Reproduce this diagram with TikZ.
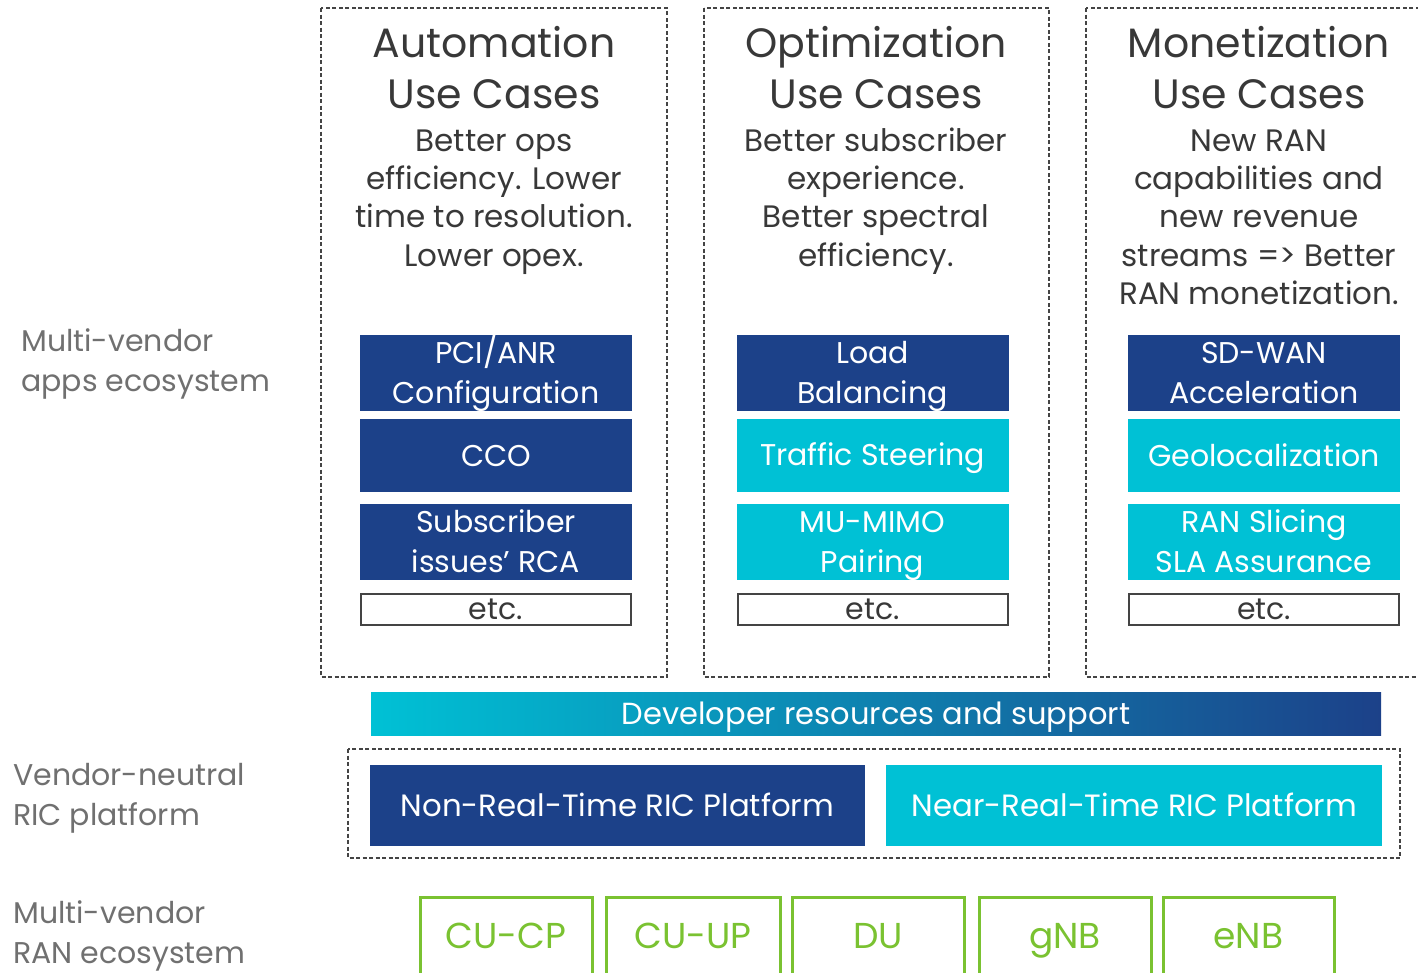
\documentclass[tikz,border=0pt]{standalone}
\usepackage{fontspec}
\setmainfont{Poppins}
\usetikzlibrary{positioning}
\definecolor{ricblue}{HTML}{1C4189}
\definecolor{riccyan}{HTML}{00C1D5}
\definecolor{rangreen}{HTML}{7AC231}
\definecolor{titlegray}{HTML}{383838}
\definecolor{labelgray}{HTML}{707070}
\definecolor{framegray}{HTML}{444444}
% strut centred on the capitals
\newcommand{\capstrut}{\rule[-0.25em]{0pt}{1.2em}}
\newcommand{\brk}{\capstrut\\\capstrut}

\begin{document}
\begin{tikzpicture}[x=1pt,y=-1pt,
    every node/.style={execute at begin node=\capstrut, execute at end node=\capstrut},
    usecase/.style={draw=framegray, line width=1.3pt, dash pattern=on 4pt off 2.5pt},
    uctitle/.style={text=titlegray, align=center, font=\fontsize{41}{51.5}\selectfont},
    ucdesc/.style={text=titlegray, align=center, font=\fontsize{31}{38.3}\selectfont},
    appbox/.style={minimum width=272pt, inner sep=0pt, text=white, align=center,
        font=\fontsize{30}{40}\selectfont},
    appdark/.style={appbox, fill=ricblue},
    applight/.style={appbox, fill=riccyan},
    etcbox/.style={draw=framegray, line width=2pt, minimum width=270pt, minimum height=31pt,
        inner xsep=0pt, inner ysep=-3pt, text=titlegray, font=\fontsize{30}{36}\selectfont},
    ricbox/.style={minimum width=495pt, minimum height=81pt, inner sep=0pt, text=white,
        font=\fontsize{30.8}{36}\selectfont},
    ranbox/.style={draw=rangreen, line width=3pt, minimum height=78pt, inner sep=0pt,
        text=rangreen, font=\fontsize{36}{40}\selectfont},
    sidelabel/.style={text=labelgray, align=left, anchor=west, inner xsep=0pt,
        font=\fontsize{30}{40}\selectfont}
]
    \useasboundingbox (0,0) rectangle (1418,972);

    % use case frames
    \draw[usecase] (321,8) rectangle (667,677);
    \draw[usecase] (704,8) rectangle (1049,677);
    \draw[usecase] (1086,8) rectangle (1432,677);

    % titles and descriptions
    \node (autoT) [uctitle] at (494,68.5) {Automation\brk Use Cases};
    \node (optT)  [uctitle] at (876,68.5) {Optimization\brk Use Cases};
    \node (monT)  [uctitle] at (1259,68.5) {Monetization\brk Use Cases};

    \node (autoD) [ucdesc] at (494,198) {Better ops\brk efficiency. Lower\brk time to resolution.\brk Lower opex.};
    \node (optD)  [ucdesc] at (876,198) {Better subscriber\brk experience.\brk Better spectral\brk efficiency.};
    \node (monD)  [ucdesc] at (1259,217) {New RAN\brk capabilities and\brk new revenue\brk streams => Better\brk RAN monetization.};

    % app boxes
    \node (pci)   [appdark, minimum height=74pt] at (496,373) {PCI/ANR\brk Configuration};
    \node (cco)   [appdark, minimum height=73pt] at (496,455.5) {CCO};
    \node (rca)   [appdark, minimum height=74pt] at (496,542) {Subscriber\brk issues’ RCA};
    \node (autoE) [etcbox] at (496,609) {etc.};

    \node (load)  [appdark, minimum height=74pt] at (872.5,373) {Load\brk Balancing};
    \node (steer) [applight, minimum height=73pt] at (872.5,455.5) {Traffic Steering};
    \node (mimo)  [applight, minimum height=74pt] at (872.5,542) {MU-MIMO\brk Pairing};
    \node (optE)  [etcbox] at (872.5,609) {etc.};

    \node (sdwan) [appdark, minimum height=74pt] at (1264,373) {SD-WAN\brk Acceleration};
    \node (geo)   [applight, minimum height=73pt] at (1264,455.5) {Geolocalization};
    \node (slice) [applight, minimum height=74pt] at (1264,542) {RAN Slicing\brk SLA Assurance};
    \node (monE)  [etcbox] at (1264,609) {etc.};

    % developer bar
    \node (dev) [minimum width=1010pt, minimum height=43pt, inner sep=0pt,
        left color=riccyan, right color=ricblue, text=white,
        font=\fontsize{30.5}{34}\selectfont] at (876,713.5) {Developer resources and support};

    % RIC platform
    \draw[usecase] (348,749) rectangle (1400,858);
    \node (nonrt)  [ricbox, fill=ricblue] at (617.5,805.5) {Non-Real-Time RIC Platform};
    \node (nearrt) [ricbox, fill=riccyan, minimum width=496pt, right=21pt of nonrt] {Near-Real-Time RIC Platform};

    % RAN ecosystem
    \node (cucp) [ranbox, minimum width=172pt] at (506,936) {CU-CP};
    \node (cuup) [ranbox, minimum width=174pt] at (693,936) {CU-UP};
    \node (du)   [ranbox, minimum width=172pt] at (878,936) {DU};
    \node (gnb)  [ranbox, minimum width=172pt] at (1065,936) {gNB};
    \node (enb)  [ranbox, minimum width=171pt] at (1248.5,936) {eNB};

    % side labels
    \node (appsL) [sidelabel] at (21,361) {Multi-vendor\brk apps ecosystem};
    \node (ricL)  [sidelabel] at (13,795.5) {Vendor-neutral\brk RIC platform};
    \node (ranL)  [sidelabel] at (13,933.5) {Multi-vendor\brk RAN ecosystem};
\end{tikzpicture}
\end{document}
